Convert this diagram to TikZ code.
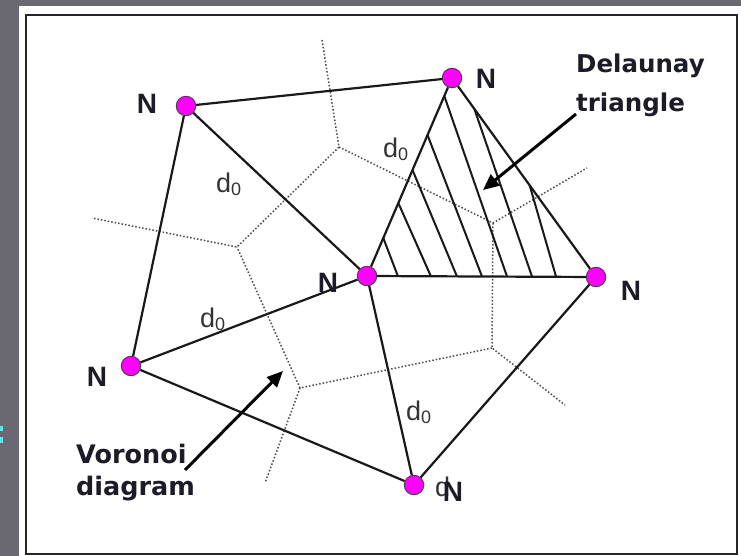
\documentclass[tikz,border=0pt]{standalone}
\usepackage{fontspec}
\setmainfont{Liberation Sans}
\newfontfamily\labfont{DejaVu Sans}
\usetikzlibrary{arrows.meta,calc}
\definecolor{bggray}{HTML}{6A6870}
\definecolor{magentadot}{HTML}{FF00FF}
\definecolor{txt}{HTML}{1C1C28}
\definecolor{vorgray}{HTML}{4A4A4A}
\definecolor{dcol}{HTML}{333333}
\definecolor{markcyan}{HTML}{5CE6F0}
\begin{document}
\begin{tikzpicture}[x=1pt,y=-1pt,
  dot/.style={circle,fill=magentadot,draw=black!75,line width=0.9pt,minimum size=19.5pt,inner sep=0pt},
  edge/.style={line width=2.2pt,black!90},
  vor/.style={vorgray,line width=1.5pt,dash pattern=on 1.5pt off 2pt},
  hatchline/.style={line width=2pt,black!90},
  nlab/.style={font=\fontsize{28}{28}\selectfont\bfseries,text=txt,inner sep=0pt},
  dlab/.style={font=\fontsize{27}{27}\selectfont,text=dcol,inner sep=0pt,anchor=base west},
  biglab/.style={font=\fontsize{24.5}{24.5}\selectfont\labfont\bfseries,text=txt,inner sep=0pt,anchor=base west},
  vlab/.style={font=\fontsize{25.5}{25.5}\selectfont\labfont\bfseries,text=txt,inner sep=0pt,anchor=base west},
  pointer/.style={line width=3pt,black,-{Triangle[length=16pt,width=14pt]}}
]
% background
\fill[bggray] (0,0) rectangle (741,556);
\fill[white] (19,6) rectangle (741,556);
\fill[markcyan] (0,426) rectangle (2.5,431);
\fill[markcyan] (0,437) rectangle (2.5,443);
\useasboundingbox (0,0) rectangle (741,556);
\draw[line width=2pt,black!85] (26,15) rectangle (737,554);

% Voronoi diagram (dotted)
\coordinate (va) at (339,147);
\coordinate (vb) at (237,247);
\coordinate (vc) at (493,223);
\coordinate (vd) at (300,388);
\coordinate (ve) at (492,348);
\coordinate (vt) at (322,40);
\coordinate (vl) at (92,218);
\coordinate (vr) at (587,168);
\coordinate (vbr) at (565,405);
\coordinate (vbl) at (265,483);
\draw[vor] (vt) -- (va) -- (vb) -- (vl);
\draw[vor] (va) -- (vc) -- (vr);
\draw[vor] (vc) -- (ve) -- (vbr);
\draw[vor] (ve) -- (vd) -- (vbl);
\draw[vor] (vd) -- (vb);

% sites
\node[dot] (n1) at (186,106) {};
\node[dot] (n2) at (452,78) {};
\node[dot] (n3) at (367,276) {};
\node[dot] (n4) at (596,277) {};
\node[dot] (n5) at (131,366) {};
\node[dot] (n6) at (414,485) {};

% hatching of the Delaunay triangle
\begin{scope}
  \clip (n3.center) -- (n2.center) -- (n4.center) -- cycle;
  \foreach \xt/\yt/\xb in {383.3/238/398, 398.3/203/431, 412.5/170/457, 427.5/135/482, 444.3/96/507, 473.7/107/532, 529/183/556}
    \draw[hatchline] ($(\xt,\yt)!-0.1!(\xb,276.5)$) -- ($(\xb,276.5)!-0.1!(\xt,\yt)$);
\end{scope}

% Delaunay edges
\draw[edge] (n1) -- (n2);
\draw[edge] (n1) -- (n3);
\draw[edge] (n1) -- (n5);
\draw[edge] (n2) -- (n3);
\draw[edge] (n2) -- (n4);
\draw[edge] (n3) -- (n4);
\draw[edge] (n3) -- (n5);
\draw[edge] (n3) -- (n6);
\draw[edge] (n5) -- (n6);
\draw[edge] (n6) -- (n4);

% N labels
\node[nlab] (l1) at (147,104) {N};
\node[nlab] (l2) at (486,79) {N};
\node[nlab] (l3) at (328,283) {N};
\node[nlab] (l4) at (631,291) {N};
\node[nlab] (l5) at (97,377) {N};

% d0 labels
\node[dlab] (d1) at (216,193) {d\raisebox{-3pt}{\fontsize{18}{18}\selectfont 0}};
\node[dlab] (d2) at (383,158) {d\raisebox{-3pt}{\fontsize{18}{18}\selectfont 0}};
\node[dlab] (d3) at (200,327) {d\raisebox{-3pt}{\fontsize{18}{18}\selectfont 0}};
\node[dlab] (d4) at (406,420) {d\raisebox{-3pt}{\fontsize{18}{18}\selectfont 0}};
\node[dlab] (d5) at (435,496) {d};
\node[nlab] (l6) at (453,492) {N};

% captions
\node[biglab] (del1) at (576,73) {Delaunay};
\node[biglab] (del2) at (576,112) {triangle};
\node[vlab] (vor1) at (76,463) {Voronoi};
\node[vlab] (vor2) at (76,495) {diagram};

% pointers
\coordinate (da1) at (576,114);
\coordinate (da2) at (483,190);
\coordinate (vp1) at (185,470);
\coordinate (vp2) at (283,371);
\draw[pointer] (da1) -- (da2);
\draw[pointer] (vp1) -- (vp2);
\end{tikzpicture}
\end{document}
